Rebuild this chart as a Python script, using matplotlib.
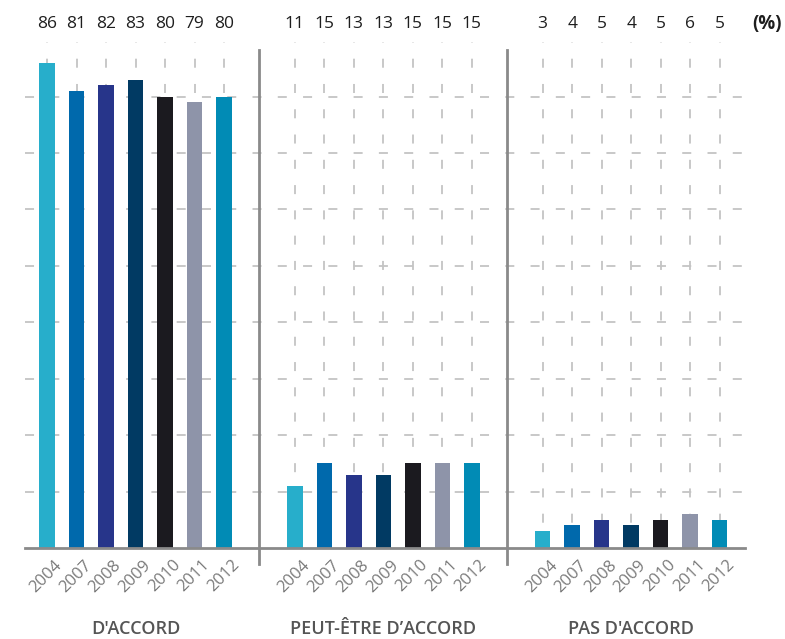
import matplotlib
matplotlib.use("Agg")
import matplotlib.pyplot as plt
import numpy as np

plt.rcParams['font.family'] = ['Open Sans', 'DejaVu Sans']

years = ["2004", "2007", "2008", "2009", "2010", "2011", "2012"]
groups = ["D'ACCORD", "PEUT-ÊTRE D’ACCORD", "PAS D'ACCORD"]
d_accord = [86, 81, 82, 83, 80, 79, 80]
peut_etre = [11, 15, 13, 13, 15, 15, 15]
pas_accord = [3, 4, 5, 4, 5, 6, 5]
year_colors = ["#27aecb", "#0069ac", "#27358a", "#013a63", "#1b1a1f", "#8e94a9", "#018bb5"]

series = [d_accord, peut_etre, pas_accord]
group_step = 8.4
bar_w = 0.52

fig = plt.figure(figsize=(7.85, 6.39), dpi=100)
ax = fig.add_axes([25 / 785, 91 / 639, 720 / 785, 536 / 639])
ax.set_xlim(-0.75, 23.66)
ax.set_ylim(0, 95)
for s in ax.spines.values():
    s.set_visible(False)
ax.set_xticks([])
ax.set_yticks([])

grid_c = "#c4c4c4"
# horizontal dashed grid
for v in range(10, 90, 10):
    ax.plot([-0.75, 23.66], [v, v], color=grid_c, lw=1.3, dashes=(5, 9), zorder=0)

for g, vals in enumerate(series):
    xs = g * group_step + np.arange(len(years))
    # vertical dashed guides above each bar
    for x in xs:
        ax.plot([x, x], [0, 89.6], color=grid_c, lw=1.3, dashes=(5, 9), zorder=0)
    ax.bar(xs, vals, width=bar_w, color=year_colors, zorder=2)
    for x, v, yr in zip(xs, vals, years):
        ax.text(x, 92.8, f"{v}", ha="center", va="center", fontsize=12.5,
                color="#1e1e1e")
        ax.annotate(yr, xy=(x, 0), xytext=(7, -9), textcoords="offset pixels",
                    rotation=45, rotation_mode="anchor", ha="right", va="top",
                    fontsize=12, color="#7a7a7a", annotation_clip=False)
    ax.annotate(groups[g], xy=(xs[3], 0), xytext=(0, -81), textcoords="offset pixels",
                ha="center", va="center", fontsize=13, fontweight="semibold",
                color="#555555", annotation_clip=False)

# baseline and group dividers
ax.plot([-0.75, 23.66], [0, 0], color="#8a8a8a", lw=2, zorder=3, clip_on=False)
for xd in (7.19, 15.6):
    ax.plot([xd, xd], [-2.8, 88.3], color="#8a8a8a", lw=2, zorder=3, clip_on=False)

ax.text(24.4, 92.8, "(%)", ha="center", va="center", fontsize=13.5,
        fontweight="bold", color="#1e1e1e", clip_on=False)

fig.savefig("out.png", dpi=100)
